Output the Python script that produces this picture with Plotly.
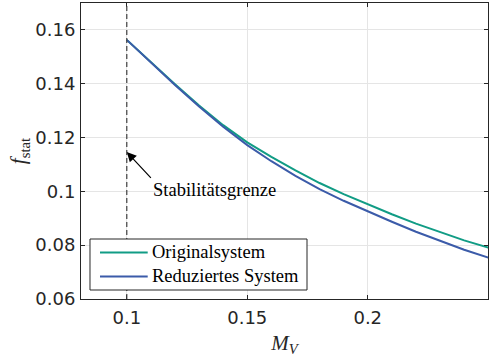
import plotly.graph_objects as go

# ---- data ----
mach = [0.100, 0.110, 0.120, 0.130, 0.140, 0.150, 0.160, 0.170,
        0.180, 0.190, 0.200, 0.210, 0.220, 0.230, 0.240, 0.250]
f_original = [0.1563, 0.1480, 0.1398, 0.1319, 0.1246, 0.1182, 0.1128, 0.1078,
              0.1031, 0.0990, 0.0951, 0.0915, 0.0880, 0.0849, 0.0818, 0.0791]
f_reduced = [0.1563, 0.1479, 0.1395, 0.1315, 0.1240, 0.1172, 0.1112, 0.1058,
             0.1008, 0.0965, 0.0925, 0.0887, 0.0850, 0.0816, 0.0783, 0.0754]
series_names = ["Originalsystem", "Reduziertes System"]
stability_limit = 0.1
annotation_text = "Stabilitätsgrenze"
arrow_tip = (0.1, 0.1146)
arrow_tail = (0.1100, 0.1050)
x_ticks = [0.1, 0.15, 0.2]
x_tick_text = ["0.1", "0.15", "0.2"]
y_ticks = [0.06, 0.08, 0.1, 0.12, 0.14, 0.16]
y_tick_text = ["0.06", "0.08", "0.1", "0.12", "0.14", "0.16"]

GREEN = "#119c85"
BLUE = "#3b5ba9"
AX = "#262626"
SERIF = "Liberation Serif"
SANS = "DejaVu Sans"

fig = go.Figure()
for name, vals, col in zip(series_names, [f_original, f_reduced], [GREEN, BLUE]):
    fig.add_trace(go.Scatter(x=mach, y=vals, mode="lines", name=name,
                             line=dict(color=col, width=2), showlegend=False))

# stability limit (dashed vertical line)
fig.add_shape(type="line", xref="x", yref="paper", x0=stability_limit, x1=stability_limit,
              y0=0, y1=1, line=dict(color="#404040", width=1.2, dash="5px,3px"), layer="above")

# arrow + label: text box anchored at its top-left corner on the arrow tail
fig.add_annotation(x=arrow_tip[0], y=arrow_tip[1], ax=arrow_tail[0], ay=arrow_tail[1],
                   axref="x", ayref="y", xref="x", yref="y", text=annotation_text,
                   showarrow=True, xanchor="left", yanchor="top",
                   arrowhead=2, arrowsize=1.6, arrowwidth=1.2, arrowcolor="black",
                   font=dict(family=SERIF, size=18.5, color="black"))

# legend (box, sample lines, labels) in the lower-left corner of the axes
fig.add_shape(type="rect", xref="paper", yref="paper", x0=0.0221, x1=0.5553, y0=0.0304, y1=0.2027,
              fillcolor="white", line=dict(color=AX, width=1), layer="above")
leg_rows = [0.1570, 0.0760]
for name, col, yy in zip(series_names, [GREEN, BLUE], leg_rows):
    fig.add_shape(type="line", xref="paper", yref="paper", x0=0.0467, x1=0.1639, y0=yy, y1=yy,
                  line=dict(color=col, width=2), layer="above")
    fig.add_annotation(xref="paper", yref="paper", x=0.1685, y=yy + 0.002, text=name,
                       showarrow=False, xanchor="left", yanchor="middle",
                       font=dict(family=SERIF, size=18.5, color="black"))

axis_common = dict(showline=True, linecolor=AX, linewidth=1, mirror="ticks",
                   ticks="inside", ticklen=4, tickcolor=AX, tickwidth=1,
                   showgrid=True, gridcolor="#e5e5e5", gridwidth=1, zeroline=False,
                   tickfont=dict(family=SANS, size=18, color=AX))

fig.update_xaxes(range=[0.081, 0.2499], tickvals=x_ticks, ticktext=x_tick_text,
                 ticklabelstandoff=2,
                 title=dict(text="<i>M<sub>V</sub></i>", font=dict(family=SERIF, size=21, color=AX),
                            standoff=8),
                 **axis_common)
fig.update_yaxes(range=[0.06, 0.17], tickvals=y_ticks, ticktext=y_tick_text,
                 ticklabelstandoff=1,
                 title=dict(text="<i>f</i><sub>stat</sub>", font=dict(family=SERIF, size=21, color=AX),
                            standoff=3),
                 **axis_common)

fig.update_layout(
    width=490, height=361,
    margin=dict(l=81, r=2, t=3, b=62),
    plot_bgcolor="white", paper_bgcolor="white",
    showlegend=False,
)

fig.write_html("out.html")
